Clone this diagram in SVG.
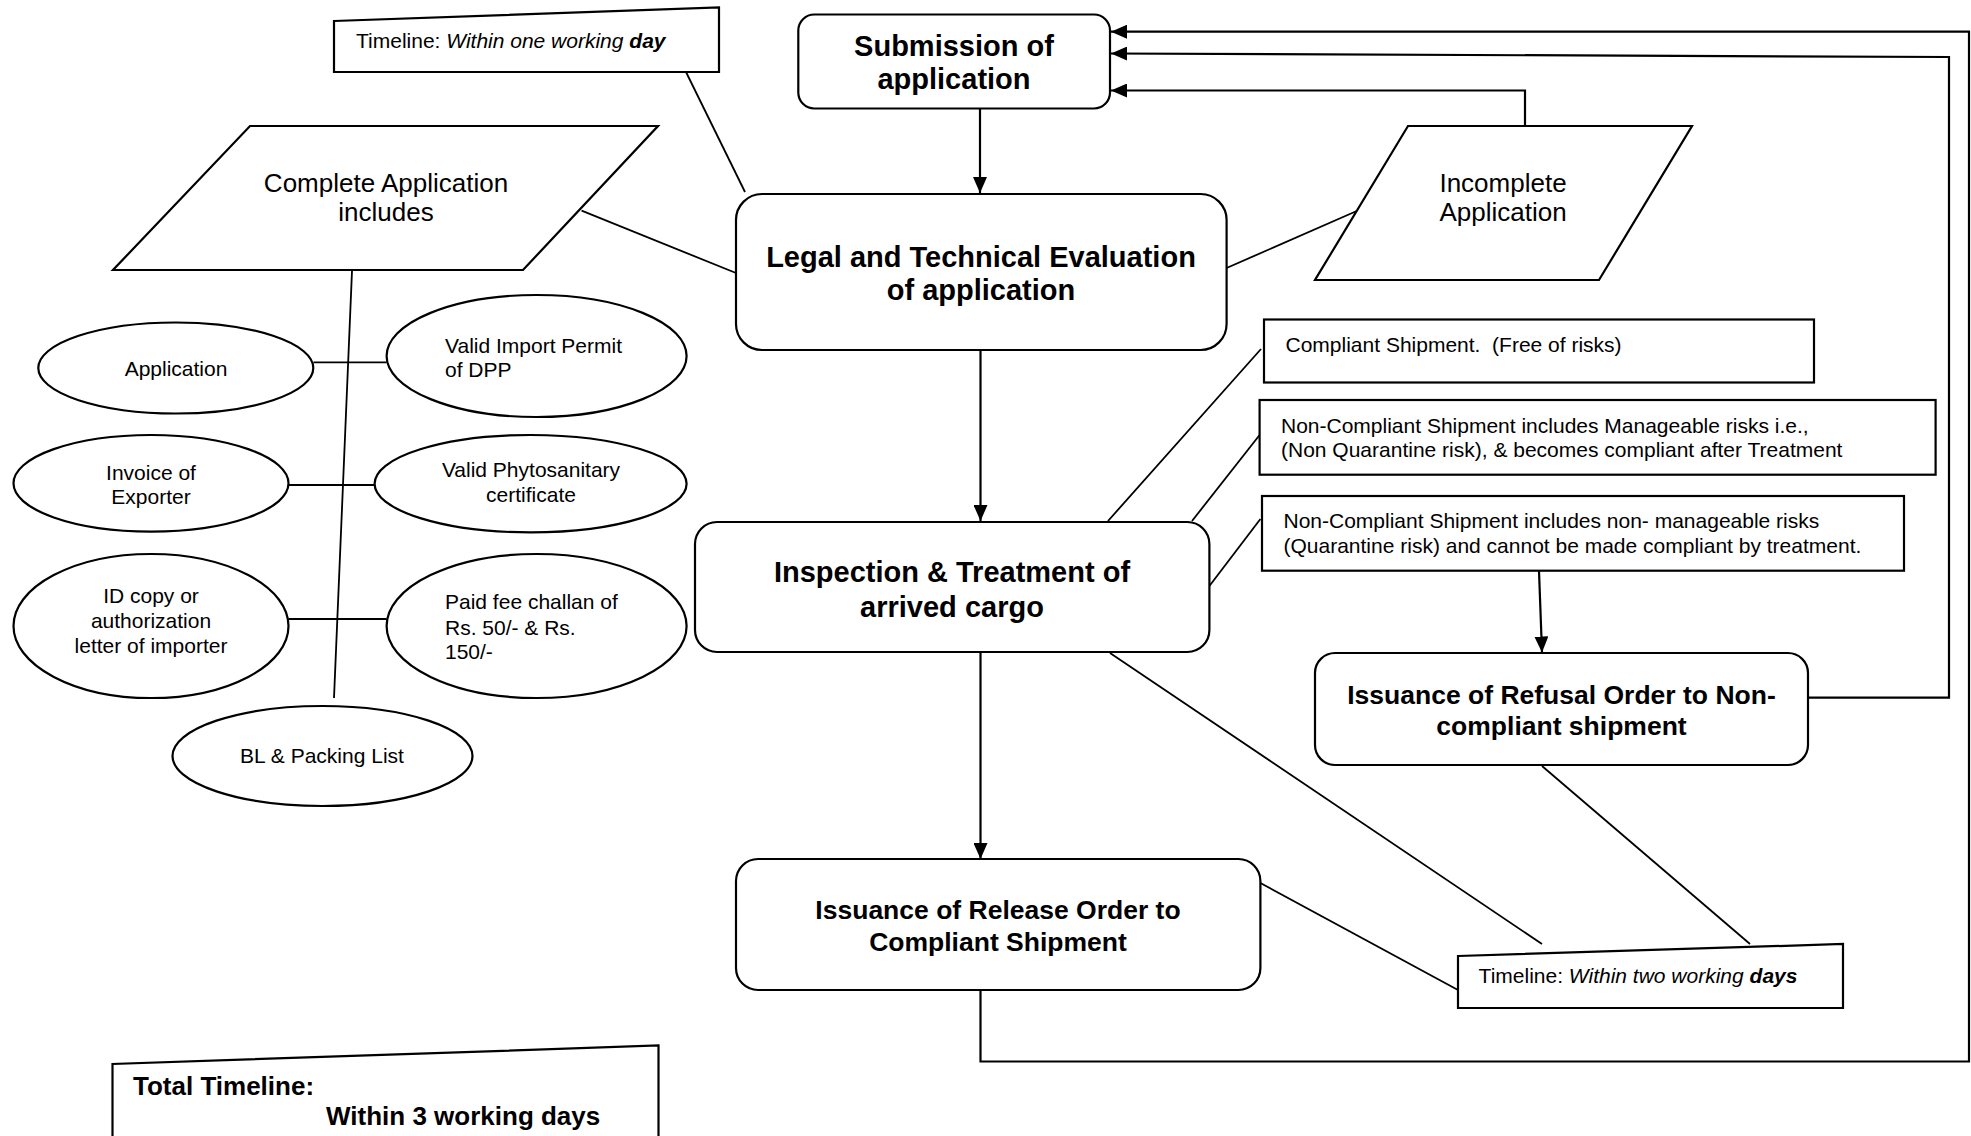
<svg xmlns="http://www.w3.org/2000/svg" width="1971" height="1136" viewBox="0 0 1971 1136">
<style>
text{font-family:"Liberation Sans",Arial,sans-serif;fill:#000}
.shape{fill:#fff;stroke:#000;stroke-width:2.2}
.ln{fill:none;stroke:#000;stroke-width:1.8}
.arr{fill:none;stroke:#000;stroke-width:2.2;marker-end:url(#ah)}
.big{font-size:29px;font-weight:bold;text-anchor:middle}
.mid{font-size:26.5px;font-weight:bold;text-anchor:middle}
.para{font-size:26px;text-anchor:middle}
.sm{font-size:21px}
.smc{font-size:21px;text-anchor:middle}
.it{font-style:italic}
.bi{font-style:italic;font-weight:bold}
</style>
<defs>
<marker id="ah" markerUnits="userSpaceOnUse" markerWidth="16" markerHeight="14" refX="16" refY="7" orient="auto">
<path d="M0,0 L16,7 L0,14 z" fill="#000"/>
</marker>
</defs>
<rect width="1971" height="1136" fill="#fff"/>

<g id="connectors">
<line class="ln" x1="686" y1="72" x2="745" y2="192"/>
<line class="ln" x1="581.6" y1="210.7" x2="736" y2="273"/>
<line class="ln" x1="1226.6" y1="268" x2="1359" y2="210"/>
<line class="ln" x1="352" y1="271" x2="334" y2="698"/>
<line class="ln" x1="313.4" y1="362.3" x2="386.6" y2="362.3"/>
<line class="ln" x1="288.5" y1="485" x2="374.6" y2="485"/>
<line class="ln" x1="288.5" y1="619" x2="386.6" y2="619"/>
<line class="ln" x1="1108" y1="521" x2="1261" y2="349"/>
<line class="ln" x1="1192" y1="521" x2="1259.6" y2="435"/>
<line class="ln" x1="1209.4" y1="586" x2="1260.4" y2="519"/>
<line class="ln" x1="1110" y1="653" x2="1542" y2="944"/>
<line class="ln" x1="1260.4" y1="883" x2="1458" y2="990"/>
<line class="ln" x1="1542" y1="766" x2="1750" y2="944"/>
<line class="arr" x1="980" y1="108" x2="980" y2="193"/>
<line class="arr" x1="980.5" y1="350" x2="980.5" y2="521"/>
<line class="arr" x1="980.5" y1="652" x2="980.5" y2="859"/>
<line class="arr" x1="1539" y1="571" x2="1542" y2="652.5"/>
<polyline class="arr" points="980.5,990 980.5,1061.5 1969,1061.5 1969,31.7 1111,31.7"/>
<polyline class="arr" points="1808,697.7 1949,697.7 1949,57 1111,53.5"/>
<polyline class="arr" points="1525,126 1525,90.5 1111,90.5"/>
</g>

<g id="timeline-one-day">
<polygon class="shape" points="334,21 719,7.5 719,72 334,72"/>
<text class="sm" x="356" y="48">Timeline: <tspan class="it">Within one working </tspan><tspan class="bi">day</tspan></text>
</g>

<g id="submission">
<rect class="shape" x="798.3" y="14.5" width="311.7" height="94" rx="16"/>
<text class="big" x="954" y="56">Submission of</text>
<text class="big" x="954" y="89">application</text>
</g>

<g id="complete-application">
<polygon class="shape" points="250,126 658,126 523,270 113,270"/>
<text class="para" x="386" y="192">Complete Application</text>
<text class="para" x="386" y="221">includes</text>
</g>

<g id="legal-evaluation">
<rect class="shape" x="736" y="194" width="490.6" height="156" rx="26"/>
<text class="big" x="981" y="267">Legal and Technical Evaluation</text>
<text class="big" x="981" y="300">of application</text>
</g>

<g id="incomplete-application">
<polygon class="shape" points="1408,126 1692,126 1599,280 1315,280"/>
<text class="para" x="1503" y="192">Incomplete</text>
<text class="para" x="1503" y="221">Application</text>
</g>

<g id="application">
<ellipse class="shape" cx="175.8" cy="368" rx="137.5" ry="45.5"/>
<text class="smc" x="176" y="376">Application</text>
</g>

<g id="import-permit">
<ellipse class="shape" cx="536.6" cy="356" rx="150" ry="61"/>
<text class="sm" x="445" y="353">Valid Import Permit</text>
<text class="sm" x="445" y="377">of DPP</text>
</g>

<g id="invoice">
<ellipse class="shape" cx="151" cy="483.3" rx="137.5" ry="48.3"/>
<text class="smc" x="151" y="480">Invoice of</text>
<text class="smc" x="151" y="504">Exporter</text>
</g>

<g id="phytosanitary">
<ellipse class="shape" cx="530.6" cy="483.7" rx="156" ry="48.7"/>
<text class="smc" x="531" y="477">Valid Phytosanitary</text>
<text class="smc" x="531" y="501.5">certificate</text>
</g>

<g id="id-copy">
<ellipse class="shape" cx="151" cy="626" rx="137.5" ry="72"/>
<text class="smc" x="151" y="603">ID copy or</text>
<text class="smc" x="151" y="628">authorization</text>
<text class="smc" x="151" y="652.5">letter of importer</text>
</g>

<g id="fee-challan">
<ellipse class="shape" cx="536.6" cy="626" rx="150" ry="72"/>
<text class="sm" x="445" y="609">Paid fee challan of</text>
<text class="sm" x="445" y="635">Rs. 50/- &amp; Rs.</text>
<text class="sm" x="445" y="659">150/-</text>
</g>

<g id="bl-packing">
<ellipse class="shape" cx="322.5" cy="756" rx="150" ry="50"/>
<text class="smc" x="322" y="763">BL &amp; Packing List</text>
</g>

<g id="compliant-shipment">
<rect class="shape" x="1264" y="319.5" width="550" height="63"/>
<text class="sm" x="1285.5" y="352" style="white-space:pre" xml:space="preserve">Compliant Shipment.  (Free of risks)</text>
</g>

<g id="manageable-risks">
<rect class="shape" x="1259.6" y="400" width="676" height="74.7"/>
<text class="sm" x="1281" y="433">Non-Compliant Shipment includes Manageable risks i.e.,</text>
<text class="sm" x="1281" y="457">(Non Quarantine risk), &amp; becomes compliant after Treatment</text>
</g>

<g id="non-manageable-risks">
<rect class="shape" x="1262" y="496" width="642" height="74.7"/>
<text class="sm" x="1283.5" y="528">Non-Compliant Shipment includes non- manageable risks</text>
<text class="sm" x="1283.5" y="553">(Quarantine risk) and cannot be made compliant by treatment.</text>
</g>

<g id="inspection">
<rect class="shape" x="695" y="522" width="514.4" height="130" rx="22"/>
<text class="big" x="952" y="582">Inspection &amp; Treatment of</text>
<text class="big" x="952" y="617">arrived cargo</text>
</g>

<g id="refusal-order">
<rect class="shape" x="1315" y="653" width="493" height="112" rx="20"/>
<text class="mid" x="1561.5" y="704">Issuance of Refusal Order to Non-</text>
<text class="mid" x="1561.5" y="735">compliant shipment</text>
</g>

<g id="release-order">
<rect class="shape" x="736" y="859" width="524.4" height="131" rx="22"/>
<text class="mid" x="998" y="919">Issuance of Release Order to</text>
<text class="mid" x="998" y="951">Compliant Shipment</text>
</g>

<g id="timeline-two-days">
<polygon class="shape" points="1458,956 1843,944 1843,1008 1458,1008"/>
<text class="sm" x="1478.6" y="983">Timeline: <tspan class="it">Within two working </tspan><tspan class="bi">days</tspan></text>
</g>

<g id="total-timeline">
<path class="shape" d="M112.5,1140 L112.5,1064 L658.5,1045.5 L658.5,1140"/>
<text x="133" y="1095" style="font-size:26px;font-weight:bold">Total Timeline:</text>
<text x="326" y="1125" style="font-size:26px;font-weight:bold">Within 3 working days</text>
</g>
</svg>
